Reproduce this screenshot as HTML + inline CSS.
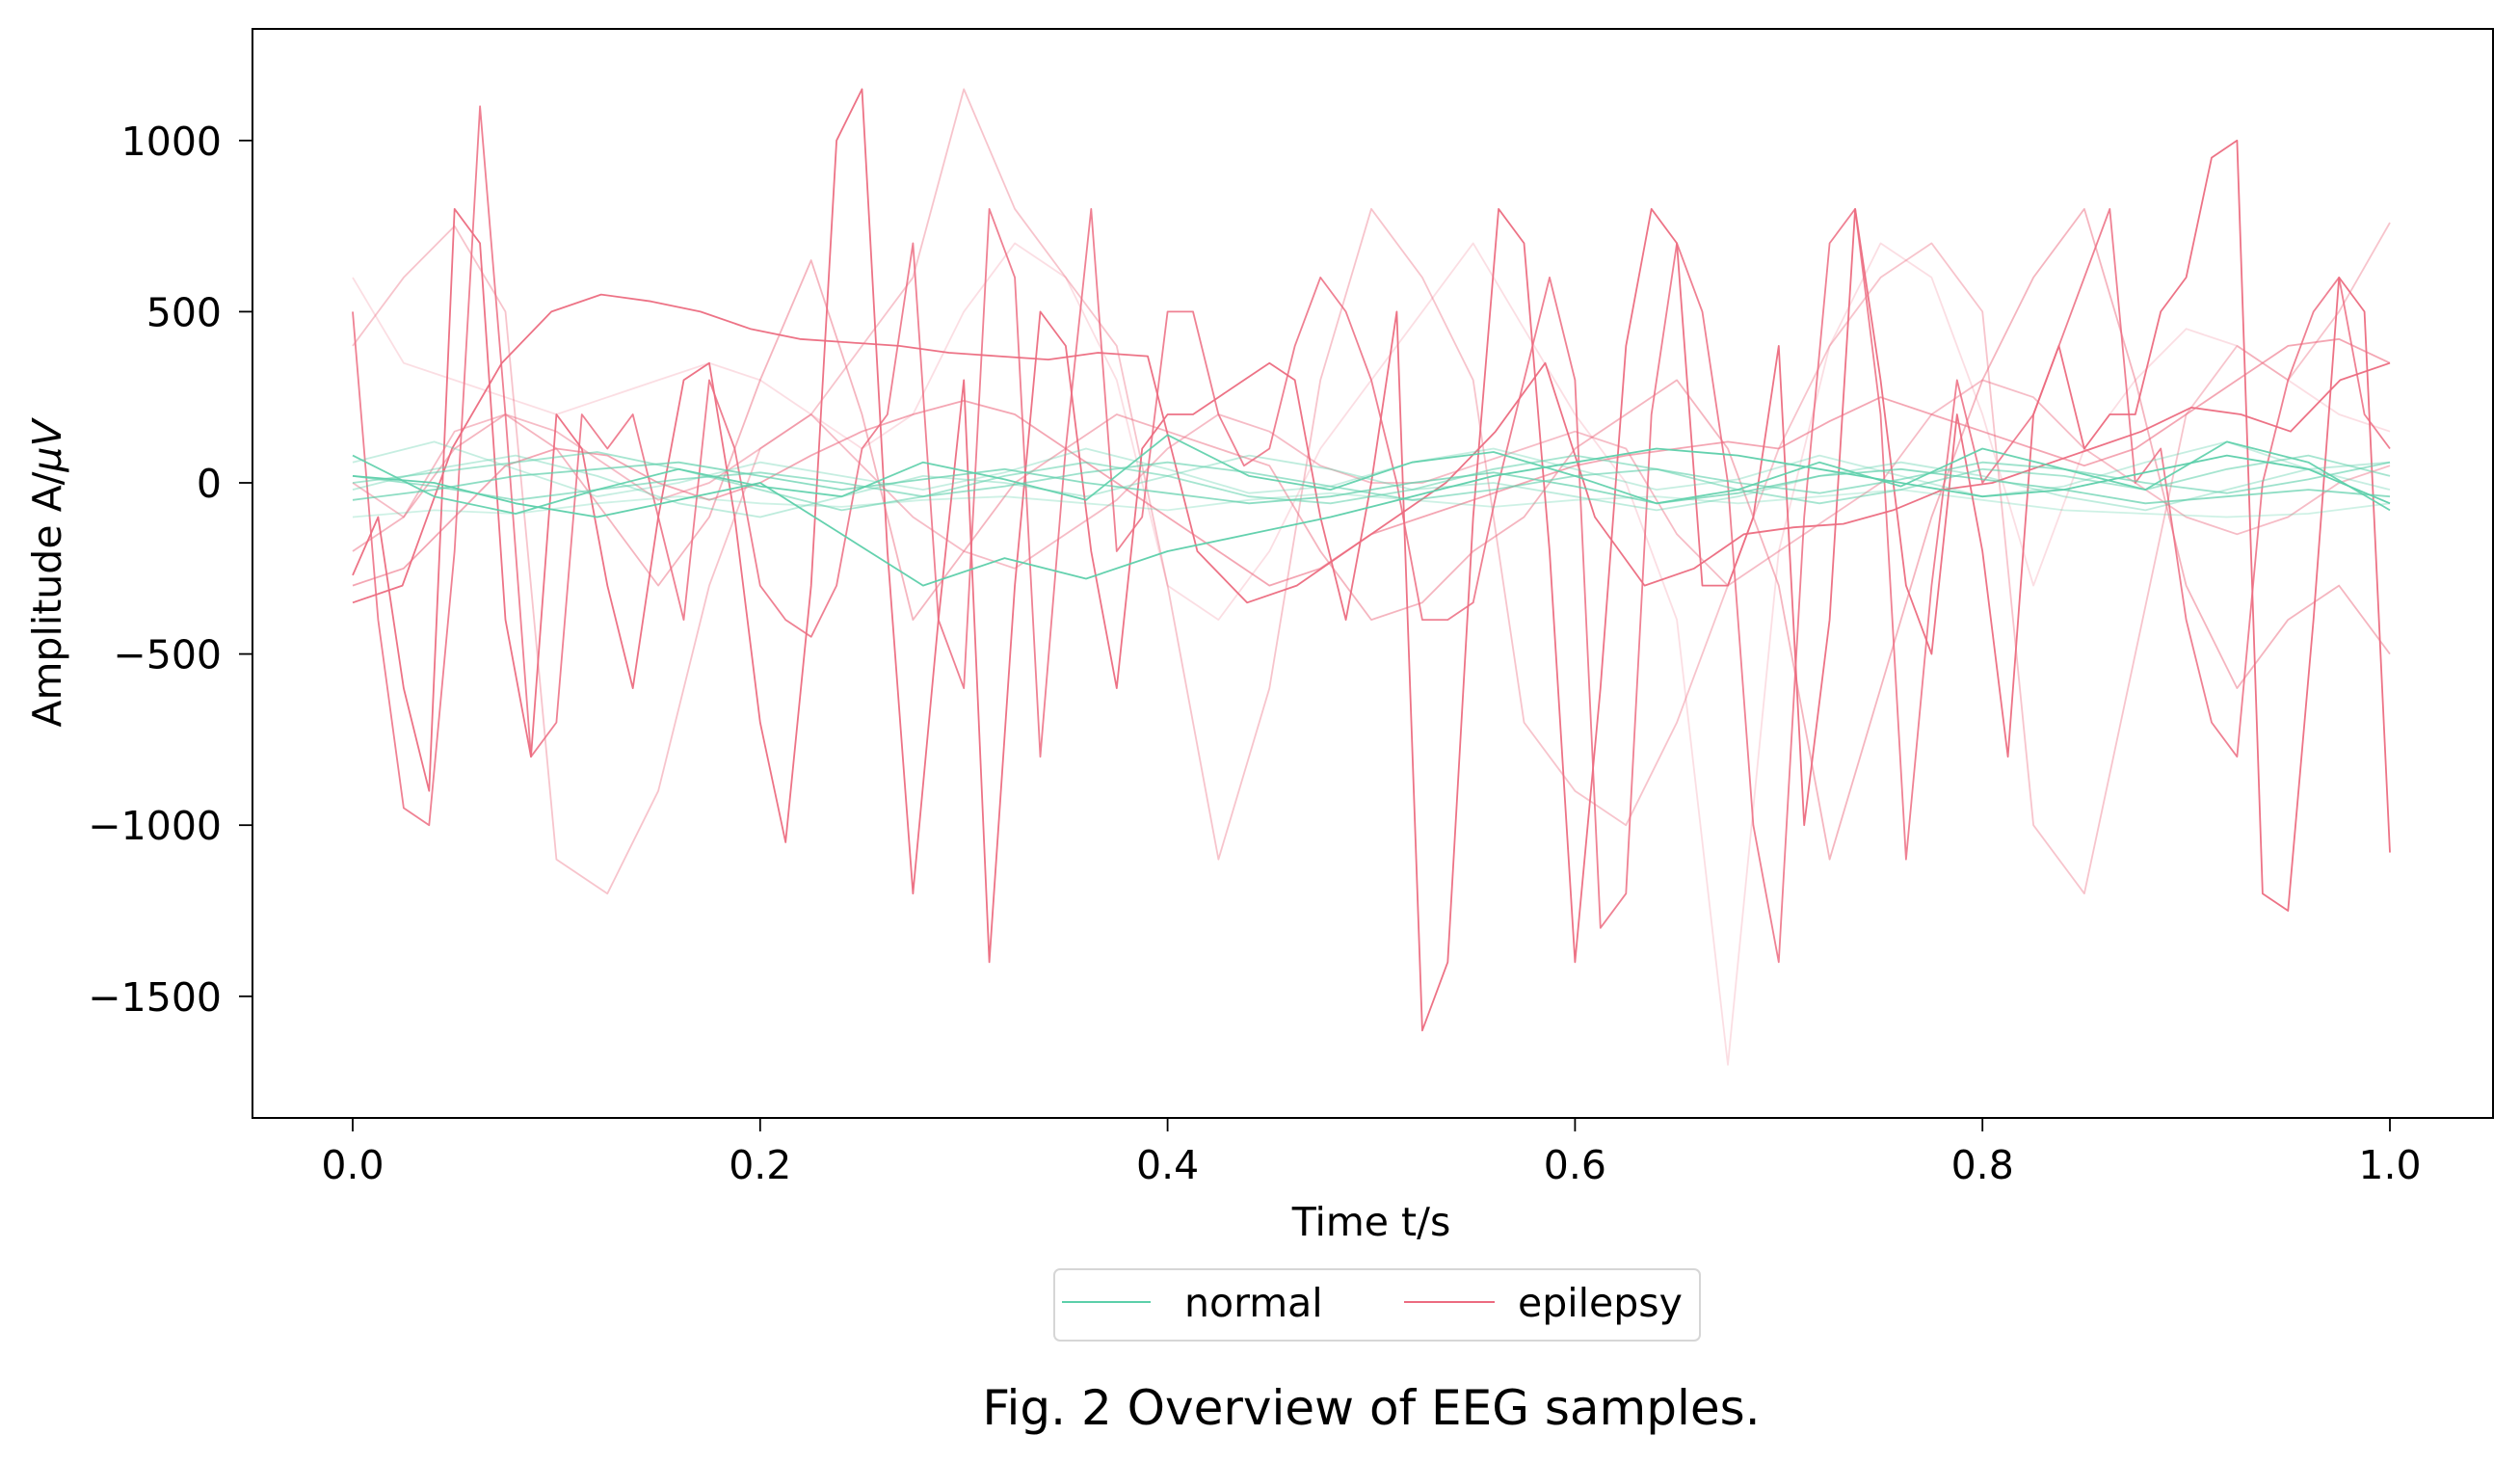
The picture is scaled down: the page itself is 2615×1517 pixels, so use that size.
<!DOCTYPE html>
<html><head><meta charset="utf-8">
<style>
html,body{margin:0;padding:0;background:#fff;}
svg{display:block;font-family:"DejaVu Sans","Liberation Sans",sans-serif;}
</style></head>
<body>
<svg id="chart" width="2615" height="1517" viewBox="0 0 2615 1517" xmlns="http://www.w3.org/2000/svg">
<defs><clipPath id="plotclip"><rect x="262" y="30" width="2325" height="1130"/></clipPath></defs>
<rect x="0" y="0" width="2615" height="1517" fill="#fff"/>
<g id="series" clip-path="url(#plotclip)"></g>
<rect x="262" y="30" width="2325" height="1130" fill="none" stroke="#000" stroke-width="2"/>
<g id="xticks"></g>
<g id="yticks"></g>
<text x="1423" y="1282" font-size="41" text-anchor="middle">Time t/s</text>
<text transform="translate(63,595) rotate(-90)" font-size="41" text-anchor="middle">Amplitude A/<tspan font-style="italic">μV</tspan></text>
<g>
<rect x="1094" y="1317" width="670" height="74" rx="6" fill="#fff" stroke="#d6d6d6" stroke-width="2"/>
<line x1="1102" y1="1351" x2="1194" y2="1351" stroke="#5ccfaa" stroke-width="2"/>
<text x="1229" y="1366" font-size="41">normal</text>
<line x1="1457" y1="1351" x2="1551" y2="1351" stroke="#ec6b80" stroke-width="2"/>
<text x="1575" y="1366" font-size="41">epilepsy</text>
</g>
<text x="1423" y="1478" font-size="50" text-anchor="middle">Fig. 2 Overview of EEG samples.</text>
</svg>
<script>
const xTicks = [0.0, 0.2, 0.4, 0.6, 0.8, 1.0];
const xTickLabels = ["0.0","0.2","0.4","0.6","0.8","1.0"];
const yTicks = [-1500, -1000, -500, 0, 500, 1000];
const yTickLabels = ["\u22121500","\u22121000","\u2212500","0","500","1000"];

const epiA = [-270,-100,-600,-900,800,700,-400,-800,200,100,-300,-600,-100,300,350,-100,-700,-1050,-300,1000,1150,-200,-1200,-400,300,-1400,-300,500,400,-200,-600,100,200,200,250,300,350,300,-100,-400,0,500,-1600,-1400,-100,800,700,-200,-1400,-600,400,800,700,-300,-300,-100,400,-1000,-400,800,300,-300,-500,200,-200,-800,200,400,100,200,200,500,600,950,1000,-1200,-1250,-400,600,500,-1080];
const epiB = [500,-400,-950,-1000,-200,1100,200,-800,-700,200,100,200,-100,-400,300,100,-300,-400,-450,-300,100,200,700,-400,-600,800,600,-800,100,800,-200,-100,500,500,200,50,100,400,600,500,300,0,-400,-400,-350,0,300,600,300,-1300,-1200,200,700,500,0,-1000,-1400,-100,700,800,200,-1100,-300,300,0,100,200,400,600,800,0,100,-400,-700,-800,0,300,500,600,200,100];
const epiC = [-350,-300,100,350,500,550,530,500,450,420,410,400,380,370,360,380,370,-200,-350,-300,-200,-100,0,150,350,-100,-300,-250,-150,-130,-120,-80,-20,0,50,100,150,220,200,150,300,350];
const epiD = [400,600,750,500,-1100,-1200,-900,-300,100,200,400,600,1150,800,600,400,-300,-1100,-600,300,800,600,300,-700,-900,-1000,-700,-300,100,400,600,700,500,-1000,-1200,-500,200,400,300,500,760];
const epiE = [600,350,300,250,200,250,300,350,300,200,100,200,500,700,600,300,-300,-400,-200,100,300,500,700,450,200,0,-400,-1700,-200,400,700,600,200,-300,100,300,450,400,300,200,150];
const epiF = [-200,-100,100,200,100,-100,-300,-100,300,650,200,-400,-200,0,100,200,150,100,50,-200,-400,-350,-200,-100,100,200,300,100,-300,-1100,-600,-100,300,600,800,300,-300,-600,-400,-300,-500];
const epiG = [0,-100,150,200,150,50,-50,0,100,200,50,-100,-200,-250,-150,-50,100,200,150,50,0,0,50,100,150,100,-150,-300,-200,-100,0,200,300,250,100,0,-100,-150,-100,0,50];
const epiH = [-300,-250,-100,50,100,80,0,-50,0,80,150,200,240,200,100,0,-100,-200,-300,-250,-150,-100,-50,0,50,80,100,120,100,180,250,200,150,100,50,100,200,300,400,420,350];

const norm1 = [20,0,-60,-100,-50,0,-150,-300,-220,-280,-200,-150,-100,-40,20,60,100,80,40,0,-40,-20,30,80,40,-60];
const norm2 = [80,-40,-90,-20,40,-10,-40,60,10,-50,140,20,-20,60,90,20,-60,-20,60,-10,100,40,-20,120,60,-80];
const norm3 = [0,30,60,90,40,-20,-80,-40,20,60,20,-40,-60,-20,40,80,40,-20,-60,-20,40,20,-20,40,80,20];
const norm4 = [-50,-20,20,40,60,20,-20,10,40,0,-30,-60,-40,0,30,-10,-60,-30,20,40,10,-20,-60,-40,-20,-40];
const norm5 = [20,-10,-50,-20,10,30,0,-40,-10,30,60,30,-10,-50,-20,20,40,0,-30,10,60,40,0,-30,10,60];
const norm6 = [-100,-80,-90,-60,-40,-60,-70,-50,-40,-60,-80,-50,-30,-50,-70,-50,-40,-60,-40,-20,-50,-80,-90,-100,-90,-60];
const norm7 = [60,120,40,-40,0,60,20,-20,30,100,40,-30,-10,60,100,40,-20,10,80,20,-40,-10,60,120,40,-20];
const norm8 = [-20,40,80,20,-60,-100,-40,20,0,-40,20,80,40,-20,0,-40,-80,-40,20,60,20,-40,-80,-20,40,60];

const epiSeries = [[epiD,0.4],[epiE,0.22],[epiF,0.5],[epiG,0.45],[epiH,0.6],[epiC,0.95],[epiB,0.85],[epiA,0.95]];
const normSeries = [[norm6,0.3],[norm7,0.35],[norm8,0.4],[norm3,0.55],[norm4,0.7],[norm5,0.6],[norm2,0.9],[norm1,0.95]];

const X0=366, X1=2480, Y0=501, PPU=177.6/500;
function xScale(t){return X0+t*(X1-X0);}
function yScale(v){return Y0-v*PPU;}
const NS="http://www.w3.org/2000/svg";
const g=document.getElementById('series');
function drawLine(vals,color,op,name){
  const n=vals.length;
  const pts=vals.map((v,i)=>xScale(i/(n-1)).toFixed(1)+","+yScale(v).toFixed(1)).join(" ");
  const pl=document.createElementNS(NS,'polyline');
  pl.setAttribute('points',pts);
  pl.setAttribute('fill','none');
  pl.setAttribute('stroke',color);
  pl.setAttribute('stroke-opacity',op);
  pl.setAttribute('stroke-width','1.8');
  pl.setAttribute('stroke-linejoin','round');
  
  
  g.appendChild(pl);
}
epiSeries.forEach((s,i)=>drawLine(s[0],'#ec6b80',s[1],'epilepsy-line-'+(i+1)));
normSeries.forEach((s,i)=>drawLine(s[0],'#5ccfaa',s[1],'normal-line-'+(i+1)));

const xt=document.getElementById('xticks');
xTicks.forEach((t,i)=>{
  const x=xScale(t);
  const l=document.createElementNS(NS,'line');
  l.setAttribute('x1',x);l.setAttribute('x2',x);l.setAttribute('y1',1160);l.setAttribute('y2',1174);
  l.setAttribute('stroke','#000');l.setAttribute('stroke-width','1.8');
  
  
  xt.appendChild(l);
  const tx=document.createElementNS(NS,'text');
  tx.setAttribute('x',x);tx.setAttribute('y',1223);tx.setAttribute('font-size','41');tx.setAttribute('text-anchor','middle');
  tx.textContent=xTickLabels[i];
  
  
  xt.appendChild(tx);
});
const yt=document.getElementById('yticks');
yTicks.forEach((v,i)=>{
  const y=yScale(v);
  const l=document.createElementNS(NS,'line');
  l.setAttribute('x1',248);l.setAttribute('x2',262);l.setAttribute('y1',y);l.setAttribute('y2',y);
  l.setAttribute('stroke','#000');l.setAttribute('stroke-width','1.8');
  
  
  yt.appendChild(l);
  const tx=document.createElementNS(NS,'text');
  tx.setAttribute('x',230);tx.setAttribute('y',y+15);tx.setAttribute('font-size','41');tx.setAttribute('text-anchor','end');
  tx.textContent=yTickLabels[i];
  
  
  yt.appendChild(tx);
});
</script>
</body></html>
